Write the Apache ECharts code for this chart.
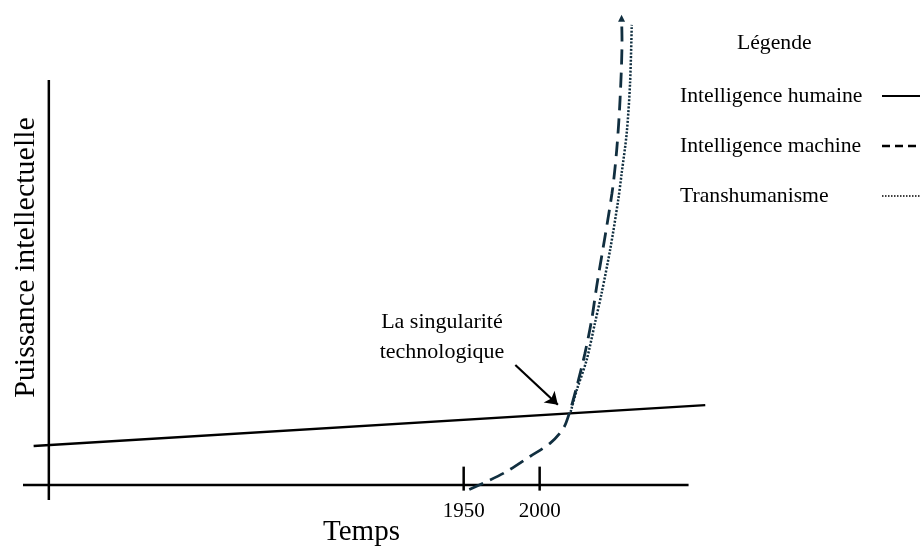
<!DOCTYPE html>
<html>
<head>
<meta charset="utf-8">
<script src="https://cdn.jsdelivr.net/npm/echarts@6/dist/echarts.min.js"></script>
<style>
  html, body { margin: 0; padding: 0; background: #fff; }
  #main { width: 920px; height: 546px; }
</style>
</head>
<body>
<div id="main"></div>
<script>
  // données (x = années, y = unité arbitraire)
  var humaine = [[1667, 10.4], [2109, 21.3]];
  var machine = [[1953.7, -1.2], [1965.1, 0.9], [1978.3, 3.6], [1993.6, 7.6], [2006.8, 11.1],
                 [2015.6, 15.1], [2019.5, 19.1], [2024.4, 26.2], [2029.8, 35.1], [2034.2, 44.0],
                 [2037.5, 52.9], [2047.6, 77.8], [2050.7, 89.3], [2052.9, 102.7], [2054.2, 118.7],
                 [2053.9, 124.5]];
  var transhumanisme = [[2020.4, 19.5], [2024.4, 25.3], [2030.9, 33.3], [2036.4, 43.2], [2040.8, 51.2],
                        [2046.5, 63.0], [2051.7, 76.0], [2054.0, 83.2], [2057.3, 93.9], [2059.5, 107.2],
                        [2060.6, 122.7]];
  var axeX = [[1660, 0], [2098, 0]];
  var axeY = [[1677, 108], [1677, -4]];
  var tickYears = [1950, 2000];
  var tickSpan = [4.9, -1.5];
  var flecheDebut = [1984, 32];
  var flecheFin = [2012, 21.4];
  var annotation = [1935.7, 39.5];

  var serif = 'Liberation Serif';
  var teal = '#112f40';

  var machineData = machine.map(function (p, i) {
    if (i === machine.length - 1) {
      return { value: p, symbol: 'triangle', symbolSize: 7 };
    }
    return { value: p, symbol: 'none' };
  });

  var tickSeries = tickYears.map(function (yr) {
    return {
      type: 'line', silent: true, symbol: 'none', clip: false,
      data: [[yr, tickSpan[0]], [yr, tickSpan[1]]],
      lineStyle: { color: '#000', width: 2.5 }
    };
  });

  var myChart = echarts.init(document.getElementById('main'));
  myChart.setOption({
    animation: false,
    title: {
      text: 'Légende', left: 732, top: 27,
      textStyle: { fontFamily: serif, fontSize: 21.7, fontWeight: 'normal', color: '#000' }
    },
    legend: {
      orient: 'vertical', left: 680, top: 84, padding: 0,
      align: 'right', itemWidth: 42, itemHeight: 14, itemGap: 26,
      formatter: '{a|{name}}',
      textStyle: {
        color: '#000', fontFamily: serif, fontSize: 21.7, lineHeight: 24,
        rich: { a: { width: 197, align: 'left', fontFamily: serif, fontSize: 21.7, lineHeight: 24, color: '#000' } }
      },
      itemStyle: { opacity: 0 },
      data: [
        { name: 'Intelligence humaine', lineStyle: { color: '#000', width: 2, type: 'solid' } },
        { name: 'Intelligence machine', lineStyle: { color: '#000', width: 2.5, type: [8, 5] } },
        { name: 'Transhumanisme', lineStyle: { color: '#000', width: 1.3, type: [1.5, 1.5] } }
      ]
    },
    grid: { left: 23, right: 198, top: 5, bottom: 46, outerBoundsMode: 'none' },
    xAxis: {
      type: 'value', min: 1660, max: 2120,
      axisLine: { show: false },
      axisTick: { show: false },
      splitLine: { show: false },
      axisLabel: {
        customValues: tickYears, margin: 1,
        formatter: function (v) { return String(v); },
        fontFamily: serif, fontSize: 21, color: '#000'
      },
      name: 'Temps', nameLocation: 'middle', nameGap: 18, nameMoveOverlap: false,
      nameTextStyle: { fontFamily: serif, fontSize: 29, color: '#000', padding: [0, 22, 0, 0] }
    },
    yAxis: {
      type: 'value', min: -4, max: 128,
      axisLine: { show: false },
      axisTick: { show: false },
      axisLabel: { show: false },
      splitLine: { show: false },
      name: 'Puissance intellectuelle', nameLocation: 'middle', nameRotate: 90, nameGap: -18,
      nameTextStyle: { fontFamily: serif, fontSize: 30, color: '#000', padding: [0, 10, 0, 0] }
    },
    series: [
      {
        name: 'axeX', type: 'line', silent: true, symbol: 'none', clip: false,
        data: axeX, lineStyle: { color: '#000', width: 2.5 }
      },
      {
        name: 'axeY', type: 'line', silent: true, symbol: 'none', clip: false,
        data: axeY, lineStyle: { color: '#000', width: 2.5 }
      }
    ].concat(tickSeries).concat([
      {
        name: 'Intelligence humaine', type: 'line', symbol: 'none', clip: false,
        data: humaine, color: '#000',
        lineStyle: { color: '#000', width: 2.5 }
      },
      {
        name: 'Intelligence machine', type: 'line', clip: false, smooth: 0.3,
        showSymbol: true, showAllSymbol: true,
        data: machineData, color: teal,
        itemStyle: { color: teal },
        lineStyle: { color: teal, width: 2.8, type: [15, 8] }
      },
      {
        name: 'Transhumanisme', type: 'line', symbol: 'none', clip: false, smooth: 0.3,
        data: transhumanisme, color: teal,
        lineStyle: { color: teal, width: 2.5, type: [2, 1.6] }
      },
      {
        name: 'fleche', type: 'line', silent: true, data: [],
        markLine: {
          silent: true, symbol: ['none', 'arrow'], symbolSize: 12,
          label: { show: false },
          lineStyle: { color: '#000', width: 2.2, type: 'solid' },
          data: [[{ coord: flecheDebut }, { coord: flecheFin }]]
        }
      },
      {
        name: 'annotation', type: 'scatter', silent: true, symbolSize: 0,
        data: [annotation],
        itemStyle: { opacity: 1 },
        label: {
          show: true, position: 'inside', formatter: 'La singularité\ntechnologique',
          fontFamily: serif, fontSize: 22, lineHeight: 30, color: '#000', opacity: 1
        }
      }
    ])
  });
</script>
</body>
</html>
